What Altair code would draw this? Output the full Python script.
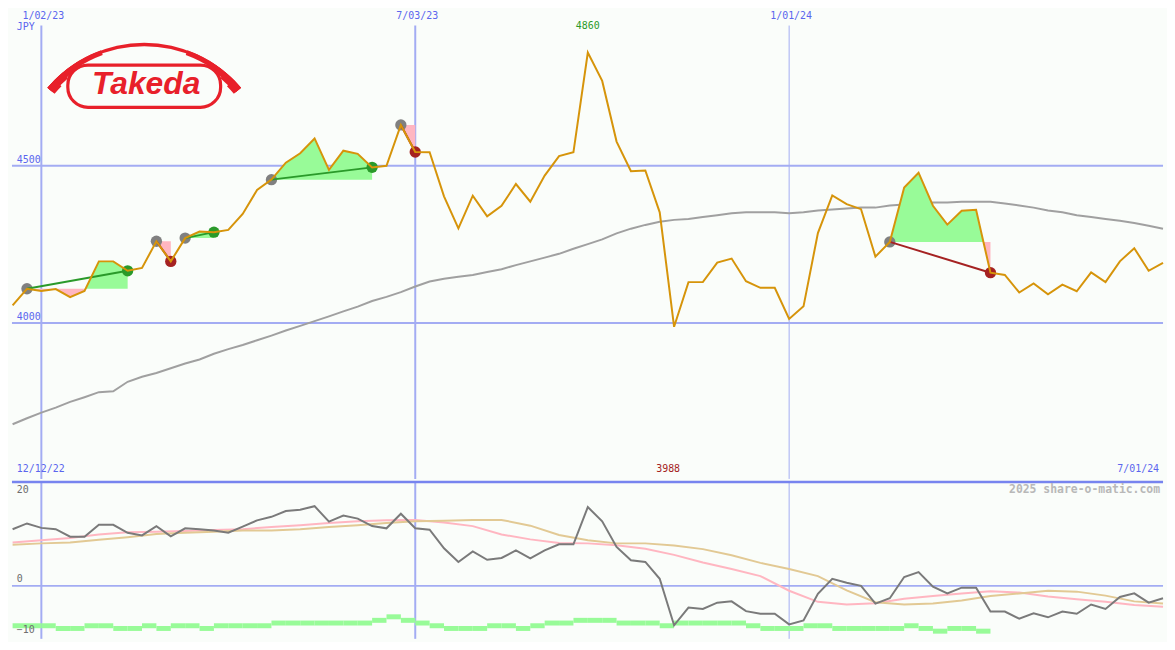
import math
import altair as alt
import pandas as pd

# ---------------- data (weekly, first week 2022-12-19) ----------------
first_week = "2022-12-19"
n_weeks = 81
price = [4056, 4109, 4102, 4108, 4082, 4102, 4196, 4196, 4166, 4175,
         4260, 4196, 4270, 4291, 4289, 4296, 4347, 4423, 4456, 4510,
         4540, 4587, 4487, 4548, 4538, 4495, 4500, 4630, 4544, 4543,
         4403, 4301, 4405, 4339, 4373, 4442, 4386, 4469, 4531, 4543,
         4860, 4770, 4577, 4483, 4485, 4352, 3988, 4130, 4130, 4192,
         4205, 4133, 4112, 4112, 4013, 4053, 4286, 4406, 4378, 4362,
         4211, 4258, 4431, 4478, 4373, 4313, 4357, 4360, 4160, 4153,
         4097, 4126, 4091, 4122, 4101, 4161, 4130, 4196, 4238, 4166, 4191]
ma = [3678, 3697, 3715, 3731, 3749, 3764, 3780, 3783, 3813, 3829,
      3841, 3856, 3871, 3884, 3902, 3917, 3930, 3945, 3960, 3976,
      3991, 4006, 4021, 4037, 4052, 4070, 4083, 4098, 4116, 4132,
      4141, 4147, 4153, 4162, 4171, 4184, 4196, 4208, 4220, 4236,
      4251, 4266, 4285, 4300, 4312, 4322, 4328, 4331, 4337, 4343,
      4349, 4352, 4352, 4352, 4349, 4352, 4358, 4361, 4364, 4367,
      4367, 4374, 4377, 4380, 4383, 4383, 4386, 4386, 4386, 4380,
      4374, 4367, 4358, 4352, 4343, 4337, 4331, 4325, 4318, 4309, 4300]
momentum = [12.8, 14.1, 13.1, 12.8, 11.1, 11.1, 13.8, 13.8, 12.0, 11.4,
            13.5, 11.2, 13.0, 12.8, 12.5, 12.0, 13.4, 14.8, 15.6, 16.9,
            17.2, 18.0, 14.5, 15.9, 15.2, 13.5, 13.0, 16.3, 13.0, 12.7,
            8.5, 5.4, 7.8, 5.9, 6.3, 8.0, 6.2, 8.0, 9.4, 9.4,
            17.8, 14.6, 8.8, 5.8, 5.4, 1.6, -8.9, -4.9, -5.2, -3.8,
            -3.5, -5.7, -6.3, -6.3, -8.7, -7.8, -1.8, 1.6, 0.7, 0.0,
            -4.0, -2.8, 2.0, 3.1, -0.2, -1.7, -0.4, -0.4, -5.8, -5.8,
            -7.4, -6.2, -7.1, -5.8, -6.3, -4.2, -5.2, -2.5, -1.7, -3.8, -2.8]
volume = [3, 3, 3, 2, 2, 3, 3, 2, 2, 3,
          2, 3, 3, 2, 3, 3, 3, 3, 4, 4,
          4, 4, 4, 4, 4, 5, 6.3, 5, 4, 3,
          2, 2, 2, 3, 3, 2, 3, 4, 4, 5,
          5, 5, 4, 4, 4, 3, 4, 4, 4, 4,
          4, 3, 2, 2, 2, 3, 3, 2, 2, 2,
          2, 2, 3, 2, 1, 2, 2, 1, 0, 0,
          0, 0, 0, 0, 0, 0, 0, 0, 0, 0, 0]
# smooth oscillator averages, read every second week
avg_pink = [9.8, 10.3, 10.8, 11.6, 12.1, 12.2, 12.4, 12.6, 12.8, 13.3,
            13.7, 14.2, 14.6, 14.8, 14.9, 14.3, 13.5, 11.6, 10.5, 9.7,
            9.6, 9.2, 8.4, 7.0, 5.3, 3.8, 2.2, -1.1, -3.6, -4.2,
            -3.9, -2.9, -2.3, -1.7, -1.2, -1.5, -2.4, -3.0, -3.6, -4.3, -4.7]
avg_tan = [9.3, 9.6, 9.8, 10.4, 11.0, 11.7, 12.0, 12.2, 12.5, 12.5,
           12.8, 13.3, 13.7, 14.2, 14.6, 14.7, 14.9, 14.9, 13.6, 11.5,
           10.3, 9.6, 9.6, 9.1, 8.3, 6.9, 5.2, 3.8, 2.2, -1.0,
           -3.7, -4.2, -4.0, -3.3, -2.3, -1.7, -1.1, -1.3, -2.2, -3.5, -4.0]
# signals: (entry week index, exit week index) into the weekly arrays
trades = [(1, 8), (10, 11), (12, 14), (18, 25), (27, 28), (61, 68)]
grid_dates = ["2023-01-02", "2023-07-03", "2024-01-01"]
grid_labels = ["1/02/23", "7/03/23", "1/01/24"]
grid_widths = [2, 2, 1]
price_ticks = [4500, 4000]
osc_ticks = [20, 0, -10]
corner_labels = ["12/12/22", "7/01/24"]
currency = "JPY"
watermark = "2025 share-o-matic.com"
logo_text = "Takeda"

# ---------------- layout / style ----------------
W = 1159
H_TOP = 472
H_BOT = 158
SX = W / 1175
SY = (H_TOP + H_BOT) / 650
R = (SX + SY) / 2
BG = "#fafdfa"
GRID = "#a3acf3"
SEP = "#7784ef"
BLUE_TXT = "#5b66ee"
ORANGE = "#d6940a"
MA_GRAY = "#a0a0a0"
PALEGREEN = "#98fb98"
PINK = "#ffb6c1"
GREEN = "#2a9a2a"
DRED = "#a52222"
DOT_GRAY = "#808080"
LOGO_RED = "#e8202a"
FONT = "DejaVu Sans Mono"

dates = pd.date_range(first_week, periods=n_weeks, freq="7D")
df = pd.DataFrame({
    "date": dates,
    "date_end": dates + pd.Timedelta(days=7),
    "price": price, "ma": ma, "mom": momentum, "vol": volume,
})
df_avg = pd.DataFrame({"date": dates[::2], "pink": avg_pink, "tan": avg_tan})

# fill areas between price and entry level
area_rows, line_rows, dot_rows = [], [], []
for t, (i0, i1) in enumerate(trades):
    L = price[i0]
    kind = "win" if price[i1] > L else "loss"
    for i in range(i0, i1 + 1):
        if i > i0:
            pa, pb = price[i - 1], price[i]
            if (pa - L) * (pb - L) < 0:
                f = (L - pa) / (pb - pa)
                ts = dates[i - 1] + (dates[i] - dates[i - 1]) * f
                area_rows.append(dict(date=ts, seg=t, up=L, dn=L, level=L))
        p = price[i]
        area_rows.append(dict(date=dates[i], seg=t, up=max(p, L), dn=min(p, L), level=L))
    line_rows.append(dict(date=dates[i0], price=L, seg=t, kind=kind))
    line_rows.append(dict(date=dates[i1], price=price[i1], seg=t, kind=kind))
    dot_rows.append(dict(date=dates[i0], price=L, kind="entry"))
    dot_rows.append(dict(date=dates[i1], price=price[i1], kind=kind))
df_area = pd.DataFrame(area_rows)
df_tl = pd.DataFrame(line_rows)
df_dots = pd.DataFrame(dot_rows)
df_grid = pd.DataFrame({"date": pd.to_datetime(grid_dates), "label": grid_labels, "w": grid_widths})
df_pt = pd.DataFrame({"v": price_ticks})
df_ot = pd.DataFrame({"v": osc_ticks})
df_vol = df[df["vol"] > 0]

xs = alt.Scale(domain=[alt.DateTime(year=2022, month=12, date=18, hours=16, minutes=42),
                       alt.DateTime(year=2024, month=7, date=1)])
ys = alt.Scale(domain=[3504, 4995], nice=False, zero=False)
yo = alt.Scale(domain=[-11.96, 23.48], nice=False, zero=False)
yv = alt.Scale(domain=[0, 54.3], nice=False, zero=False)
X = alt.X("date:T", scale=xs, axis=None)

one = pd.DataFrame({"a": [0]})

# ---------------- top panel ----------------
vgrid = alt.Chart(df_grid).mark_rule(color=GRID).encode(
    x=X, y=alt.value(16 * SY), y2=alt.value(H_TOP),
    strokeWidth=alt.StrokeWidth("w:Q", scale=None))
hgrid = alt.Chart(df_pt).mark_rule(color=GRID, strokeWidth=2).encode(
    y=alt.Y("v:Q", scale=ys, axis=None), x=alt.value(0), x2=alt.value(W))
ptick_lbl = alt.Chart(df_pt).mark_text(font=FONT, fontSize=10, color=BLUE_TXT, align="left",
                                       baseline="middle", dy=-6).encode(
    y=alt.Y("v:Q", scale=ys, axis=None), x=alt.value(5 * SX), text="v:Q")
date_lbl = alt.Chart(df_grid).mark_text(font=FONT, fontSize=10, color=BLUE_TXT, align="center",
                                        baseline="middle", dx=2).encode(
    x=X, y=alt.value(6 * SY), text="label:N")
jpy = alt.Chart(pd.DataFrame({"t": [currency]})).mark_text(
    font=FONT, fontSize=10, color=BLUE_TXT, align="left", baseline="middle").encode(
    x=alt.value(5 * SX), y=alt.value(17 * SY), text="t:N")
corner_l = alt.Chart(pd.DataFrame({"t": [corner_labels[0]]})).mark_text(
    font=FONT, fontSize=10, color=BLUE_TXT, align="left", baseline="middle").encode(
    x=alt.value(5 * SX), y=alt.value(477 * SY), text="t:N")
corner_r = alt.Chart(pd.DataFrame({"t": [corner_labels[1]]})).mark_text(
    font=FONT, fontSize=10, color=BLUE_TXT, align="right", baseline="middle").encode(
    x=alt.value(1171 * SX), y=alt.value(477 * SY), text="t:N")

# logo
def deg(a):
    return 2 * math.pi + a * math.pi / 180

logo_layers = []
arc_steps = [(-50, 50, 126.5), (-50, -20, 125), (20, 50, 125), (-50, -32, 123.5), (32, 50, 123.5),
             (-50, -40, 122), (40, 50, 122), (-50, -45, 120.5), (45, 50, 120.5)]
for a0, a1, r2 in arc_steps:
    logo_layers.append(alt.Chart(one).mark_arc(
        theta=deg(a0), theta2=deg(a1), radius=130 * R, radius2=r2 * R, color=LOGO_RED).encode(
        x=alt.value(135 * SX), y=alt.value(165 * SY)))
logo_layers.append(alt.Chart(one).mark_rect(
    cornerRadius=21 * SY, stroke=LOGO_RED, strokeWidth=3.2, fillOpacity=0).encode(
    x=alt.value(57 * SX), x2=alt.value(213 * SX), y=alt.value(57 * SY), y2=alt.value(101 * SY)))
logo_layers.append(alt.Chart(pd.DataFrame({"t": [logo_text]})).mark_text(
    font="Liberation Sans", fontSize=32, fontWeight="bold", fontStyle="italic",
    color=LOGO_RED, align="center", baseline="alphabetic").encode(
    x=alt.value(137 * SX), y=alt.value(87 * SY), text="t:N"))

ma_line = alt.Chart(df).mark_line(color=MA_GRAY, strokeWidth=2).encode(
    x=X, y=alt.Y("ma:Q", scale=ys, axis=None))
area_up = alt.Chart(df_area).mark_area(color=PALEGREEN, opacity=1).encode(
    x=X, y=alt.Y("up:Q", scale=ys, axis=None), y2="level:Q", detail="seg:N")
area_dn = alt.Chart(df_area).mark_area(color=PINK, opacity=1).encode(
    x=X, y=alt.Y("dn:Q", scale=ys, axis=None), y2="level:Q", detail="seg:N")
dots = alt.Chart(df_dots).mark_circle(opacity=1, size=130).encode(
    x=X, y=alt.Y("price:Q", scale=ys, axis=None),
    color=alt.Color("kind:N", scale=alt.Scale(domain=["entry", "win", "loss"],
                                              range=[DOT_GRAY, GREEN, DRED]), legend=None))
tlines = alt.Chart(df_tl).mark_line(strokeWidth=2).encode(
    x=X, y=alt.Y("price:Q", scale=ys, axis=None), detail="seg:N",
    color=alt.Color("kind:N", scale=alt.Scale(domain=["win", "loss"], range=[GREEN, DRED]),
                    legend=None))
price_line = alt.Chart(df).mark_line(color=ORANGE, strokeWidth=2).encode(
    x=X, y=alt.Y("price:Q", scale=ys, axis=None))
df_max = df.loc[[df["price"].idxmax()]]
df_min = df.loc[[df["price"].idxmin()]]
max_lbl = alt.Chart(df_max).mark_text(font=FONT, fontSize=10, color=GREEN, dy=-27,
                                      baseline="middle").encode(
    x=X, y=alt.Y("price:Q", scale=ys, axis=None), text=alt.Text("price:Q", format="d"))
min_lbl = alt.Chart(df_min).mark_text(font=FONT, fontSize=10, color=DRED, dx=-6,
                                      baseline="middle").encode(
    x=X, y=alt.value(477 * SY), text=alt.Text("price:Q", format="d"))

top = alt.layer(vgrid, hgrid, ptick_lbl, date_lbl, jpy, corner_l, corner_r, *logo_layers,
                ma_line, area_up, area_dn, dots, tlines, price_line, max_lbl, min_lbl
                ).properties(width=W, height=H_TOP)

# ---------------- bottom panel ----------------
vgrid_b = alt.Chart(df_grid).mark_rule(color=GRID).encode(
    x=X, y=alt.value(0), y2=alt.value(H_BOT),
    strokeWidth=alt.StrokeWidth("w:Q", scale=None))
vol_bars = alt.Chart(df_vol).mark_bar(color=PALEGREEN, opacity=1).encode(
    x=X, x2="date_end:T", y=alt.Y("vol:Q", scale=yv, axis=None))
zero_line = alt.Chart(df_ot).transform_filter("datum.v == 0").mark_rule(
    color=GRID, strokeWidth=2).encode(
    y=alt.Y("v:Q", scale=yo, axis=None), x=alt.value(0), x2=alt.value(W))
otick_hi = alt.Chart(df_ot).transform_filter("datum.v > -10").mark_text(
    font=FONT, fontSize=10, color="#6e6e6e", align="left", baseline="middle", dy=-7).encode(
    y=alt.Y("v:Q", scale=yo, axis=None), x=alt.value(5 * SX), text="v:Q")
otick_lo = alt.Chart(df_ot).transform_filter("datum.v <= -10").mark_text(
    font=FONT, fontSize=10, color="#6e6e6e", align="left", baseline="middle", dy=0).encode(
    y=alt.Y("v:Q", scale=yo, axis=None), x=alt.value(5 * SX), text="v:Q")
pink_line = alt.Chart(df_avg).mark_line(color=PINK, strokeWidth=2).encode(
    x=X, y=alt.Y("pink:Q", scale=yo, axis=None))
tan_line = alt.Chart(df_avg).mark_line(color="#e2c994", strokeWidth=2).encode(
    x=X, y=alt.Y("tan:Q", scale=yo, axis=None))
mom_line = alt.Chart(df).mark_line(color="#7a7a7a", strokeWidth=2).encode(
    x=X, y=alt.Y("mom:Q", scale=yo, axis=None))
sep = alt.Chart(one).mark_rule(color=SEP, strokeWidth=2.5).encode(
    x=alt.value(0), x2=alt.value(W), y=alt.value(0))
wm = alt.Chart(pd.DataFrame({"t": [watermark]})).mark_text(
    font=FONT, fontSize=11.5, fontWeight="bold", color="#b8b8b8", align="right",
    baseline="middle").encode(x=alt.value(1172 * SX), y=alt.value(8 * SY), text="t:N")

bottom = alt.layer(vgrid_b, vol_bars, zero_line, otick_hi, otick_lo, pink_line, tan_line,
                   mom_line, sep, wm).resolve_scale(y="independent").properties(width=W, height=H_BOT)

chart = alt.vconcat(top, bottom, spacing=0).properties(
    background=BG, padding=0).configure_view(stroke=None)

chart.save("out.html", embed_options={"renderer": "svg", "actions": False})
